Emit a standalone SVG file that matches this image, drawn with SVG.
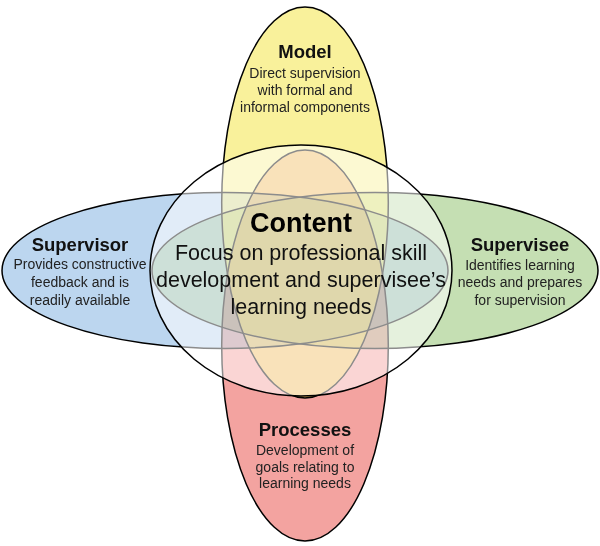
<svg xmlns="http://www.w3.org/2000/svg" width="600" height="546" viewBox="0 0 600 546">
<style>
  .fill { stroke: none; }
  .mul { mix-blend-mode: multiply; }
  .outline { fill: none; stroke: #000; stroke-width: 1.5; }
  .title { font-family: "Liberation Sans", Arial, sans-serif; font-weight: bold; font-size: 18.5px; fill: #111; text-anchor: middle; }
  .body { font-family: "Liberation Sans", Arial, sans-serif; font-size: 14px; fill: #222; text-anchor: middle; }
  .ctitle { font-family: "Liberation Sans", Arial, sans-serif; font-weight: bold; font-size: 27px; fill: #000; text-anchor: middle; }
  .cbody { font-family: "Liberation Sans", Arial, sans-serif; font-size: 21.5px; fill: #111; text-anchor: middle; }
</style>
<defs>
  <ellipse id="e-supervisor" cx="225" cy="270.5" rx="223" ry="78"/>
  <ellipse id="e-supervisee" cx="375" cy="270.5" rx="223" ry="78"/>
  <ellipse id="e-model" cx="305" cy="202.5" rx="83.3" ry="195.5"/>
  <ellipse id="e-processes" cx="305" cy="345.5" rx="83.3" ry="195.5"/>
</defs>
<rect width="600" height="546" fill="#fff"/>
<g id="node-supervisor">
  <use href="#e-supervisor" class="fill" fill="#BCD6EF"/>
  <text class="title" x="80" y="250.5">Supervisor</text>
  <text class="body" x="80" y="269">Provides constructive</text>
  <text class="body" x="80" y="287">feedback and is</text>
  <text class="body" x="80" y="304.5">readily available</text>
</g>
<g id="node-supervisee">
  <use href="#e-supervisee" class="fill mul" fill="#C5DFB3"/>
  <text class="title" x="520" y="250.5">Supervisee</text>
  <text class="body" x="520" y="269.5">Identifies learning</text>
  <text class="body" x="520" y="287">needs and prepares</text>
  <text class="body" x="520" y="304.5">for supervision</text>
</g>
<g id="node-processes">
  <use href="#e-processes" class="fill mul" fill="#F3A3A0"/>
  <text class="title" x="305" y="436">Processes</text>
  <text class="body" x="305" y="455">Development of</text>
  <text class="body" x="305" y="471.5">goals relating to</text>
  <text class="body" x="305" y="488">learning needs</text>
</g>
<g id="node-model">
  <use href="#e-model" class="fill" fill="#F2E021" fill-opacity="0.45"/>
  <text class="title" x="305" y="58">Model</text>
  <text class="body" x="305" y="77.5">Direct supervision</text>
  <text class="body" x="305" y="94.5">with formal and</text>
  <text class="body" x="305" y="111.5">informal components</text>
</g>
<g id="outlines">
  <use href="#e-supervisor" class="outline"/>
  <use href="#e-supervisee" class="outline"/>
  <use href="#e-model" class="outline"/>
  <use href="#e-processes" class="outline"/>
</g>
<g id="node-content">
  <ellipse cx="301" cy="270.5" rx="151" ry="125.5" fill="#fff" fill-opacity="0.55" stroke="#000" stroke-width="1.5"/>
  <text class="ctitle" x="301" y="232">Content</text>
  <text class="cbody" x="301" y="260">Focus on professional skill</text>
  <text class="cbody" x="301" y="287">development and supervisee’s</text>
  <text class="cbody" x="301" y="313.5">learning needs</text>
</g>
</svg>
